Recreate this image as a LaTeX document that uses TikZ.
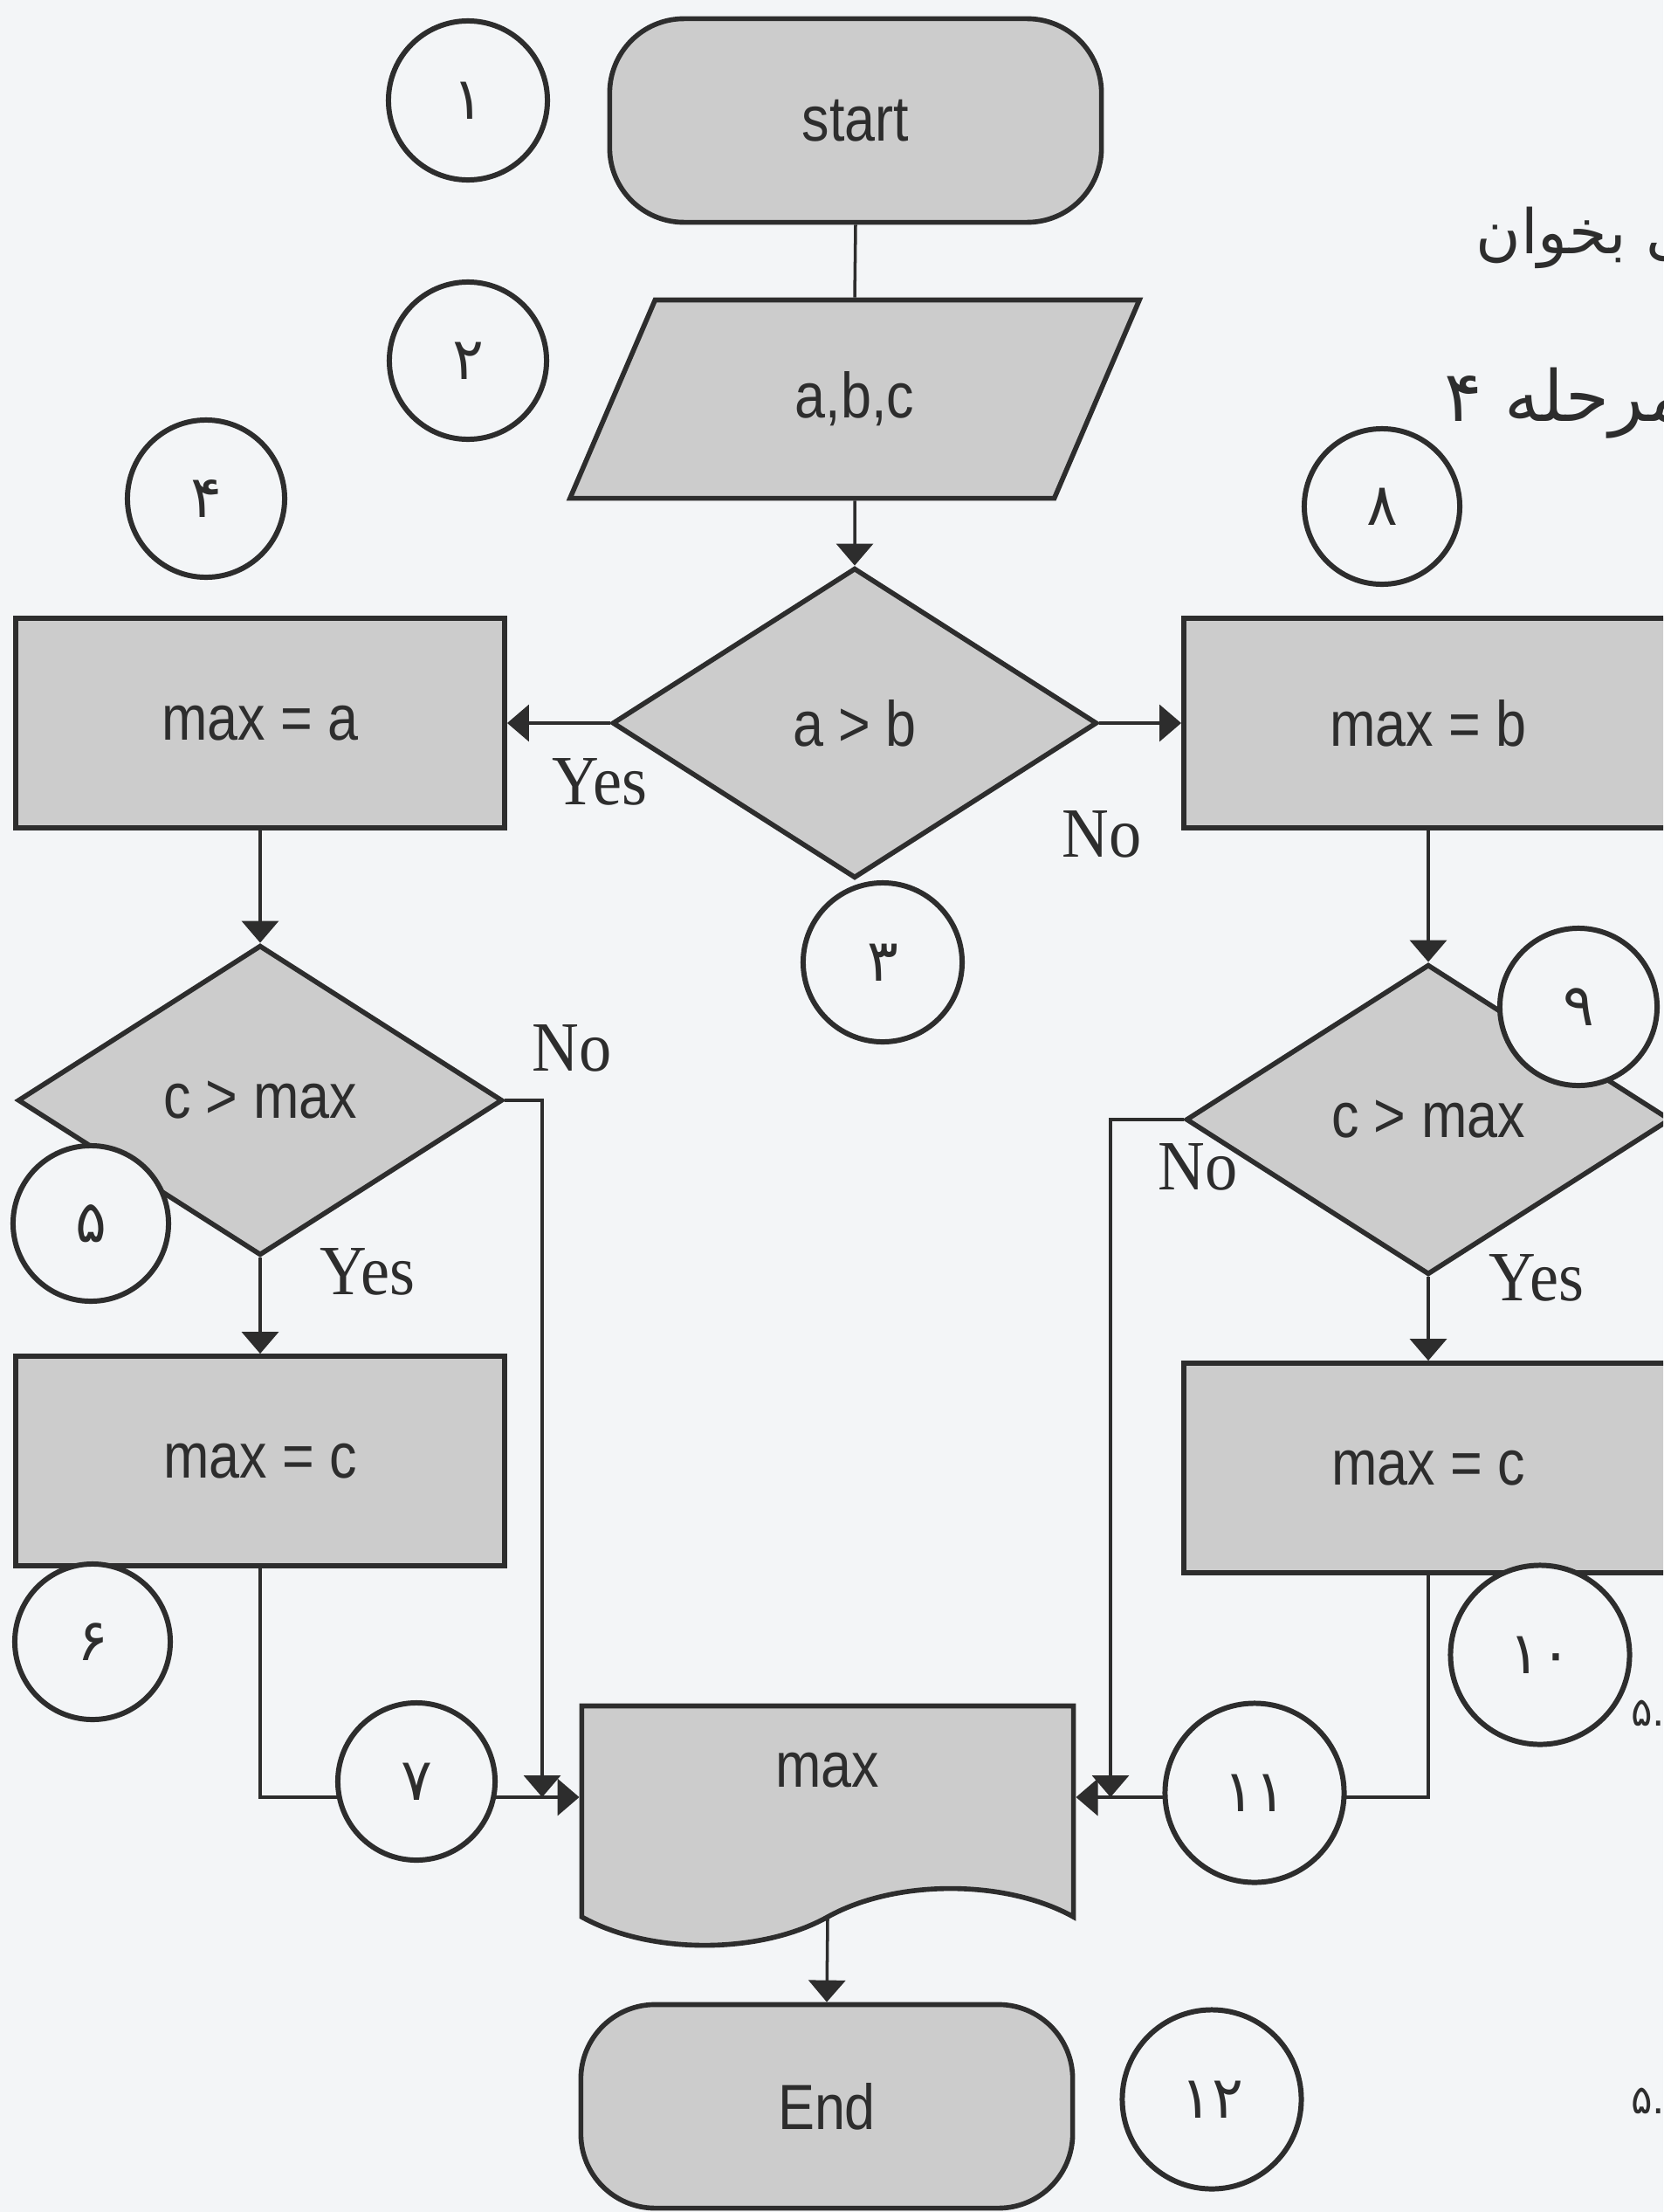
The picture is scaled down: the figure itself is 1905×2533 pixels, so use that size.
\documentclass[tikz,border=0pt]{standalone}
\usepackage{fontspec}
\usepackage{tikz}
\usetikzlibrary{shapes.geometric, shapes.symbols, arrows.meta}
\TeXXeTstate=1
\newfontfamily\flowfont[FakeStretch=0.86]{Liberation Sans}
\newfontfamily\tagfont[FakeStretch=0.92]{Liberation Serif}
\newfontfamily\farsifont[Script=Arabic]{DejaVu Sans}
\newfontfamily\digitfont{DejaVu Sans}
\definecolor{paper}{RGB}{243,245,247}
\definecolor{screen}{RGB}{204,204,204}
\definecolor{ink}{RGB}{45,45,45}

\begin{document}
\begin{tikzpicture}
  [
    x=0.01cm, y=-0.01cm,
    shape line/.style={draw=ink, line width=1.6pt, fill=screen, inner sep=0pt,
      text=ink, font=\flowfont\fontsize{20.8}{24}\selectfont},
    process/.style={shape line, rectangle, minimum width=5.6cm, minimum height=2.4cm},
    terminal/.style={shape line, rectangle, rounded corners=0.85cm,
      minimum width=5.63cm, minimum height=2.33cm},
    decision/.style={shape line, diamond, minimum width=5.55cm, minimum height=3.55cm},
    io/.style={shape line, trapezium, trapezium left angle=65, trapezium right angle=115,
      trapezium stretches=true, minimum width=6.55cm, minimum height=2.27cm},
    output/.style={shape line, tape, tape bend top=none, tape bend bottom=in and out,
      tape bend height=0.65cm, minimum width=5.63cm, minimum height=2.74cm},
    flow/.style={draw=ink, line width=1pt, -{Triangle[width=0.42cm,length=0.25cm]}},
    branch/.style={text=ink, font=\tagfont\fontsize{23}{26}\selectfont},
    marker/.style={circle, draw=ink, line width=1.7pt, fill=paper, inner sep=0pt,
      text=ink, font=\farsifont\fontsize{19}{22}\selectfont},
    note/.style={anchor=base west, text=ink, font=\farsifont\fontsize{20}{24}\selectfont}
  ]
  \useasboundingbox (0,0) rectangle (1905,2533);
  \fill[paper] (0,0) rectangle (1905,2533);
  \clip (0,0) rectangle (1905,2533);

  % main column
  \node[terminal] (start) at (980,138) {start};
  \node[io] (read) at (979,457) {a,b,c};
  \node[decision] (ab) at (979,828) {a > b};
  \node[output] (out) at (948,2058) {\raisebox{0.12cm}[0pt][0pt]{max}};
  \node[terminal] (stop) at (947,2412) {End};

  % a > b : yes
  \node[process] (maxa) at (298,828) {max = a};
  \node[decision] (cmaxa) at (298,1260) {c > max};
  \node[process] (maxca) at (298,1673) {max = c};

  % a > b : no
  \node[process] (maxb) at (1636,828) {max = b};
  \node[decision] (cmaxb) at (1636,1282) {c > max};
  \node[process] (maxcb) at (1636,1681) {max = c};

  \coordinate (nojoina) at (621,2058);
  \coordinate (nojoinb) at (1272,2058);

  % connectors
  \draw[draw=ink, line width=1pt] (start.south) -- (read.north);
  \draw[flow] (read.south) -- (ab.north);
  \draw[flow] (ab.west) -- (maxa.east);
  \draw[flow] (ab.east) -- (maxb.west);
  \draw[flow] (maxa.south) -- (cmaxa.north);
  \draw[flow] (cmaxa.south) -- (maxca.north);
  \draw[flow] (cmaxa.east) -| (nojoina);
  \draw[flow] (maxca.south) |- (out.west);
  \draw[flow] (maxb.south) -- (cmaxb.north);
  \draw[flow] (cmaxb.south) -- (maxcb.north);
  \draw[flow] (cmaxb.west) -| (nojoinb);
  \draw[flow] (maxcb.south) |- (out.east);
  \draw[flow] ([yshift=-0.32cm]out.south) -- (stop.north);

  % branch labels
  \node[branch] (yesab) at (687,895) {Yes};
  \node[branch] (noab) at (1262,955) {No};
  \node[branch] (noa) at (655,1200) {No};
  \node[branch] (yesa) at (421,1456) {Yes};
  \node[branch] (nob) at (1372,1336) {No};
  \node[branch] (yesb) at (1760,1463) {Yes};

  % step numbers
  \foreach \i/\d/\x/\y/\r in {1/۱/536/115/1.82, 2/۲/536/413/1.8, 3/۳/1011/1102/1.82,
      4/۴/236/571/1.8, 5/۵/104/1401/1.78, 6/۶/106/1880/1.78, 7/۷/477/2040/1.8,
      8/۸/1583/580/1.78, 9/۹/1808/1153/1.8, 10/۱۰/1764/1895/2.05,
      11/۱۱/1437/2053/2.05, 12/۱۲/1388/2404/2.05} {
    \node[marker, minimum size=\r cm] (m\i) at (\x,\y) {\d};
  }

  % text running off the right edge
  \node[note] (readnote) at (1678,290) {\beginR ورودی بخوان\endR};
  \node[note, font=\farsifont\fontsize{23}{27}\selectfont] (gotonote) at (1642,482)
    {\beginR برو به مرحله ۴\endR};
  \node[note, font=\digitfont\fontsize{13}{16}\selectfont] (tailA) at (1856,1976) {۵.};
  \node[note, font=\digitfont\fontsize{13}{16}\selectfont] (tailB) at (1856,2420) {۵.};
\end{tikzpicture}
\end{document}
